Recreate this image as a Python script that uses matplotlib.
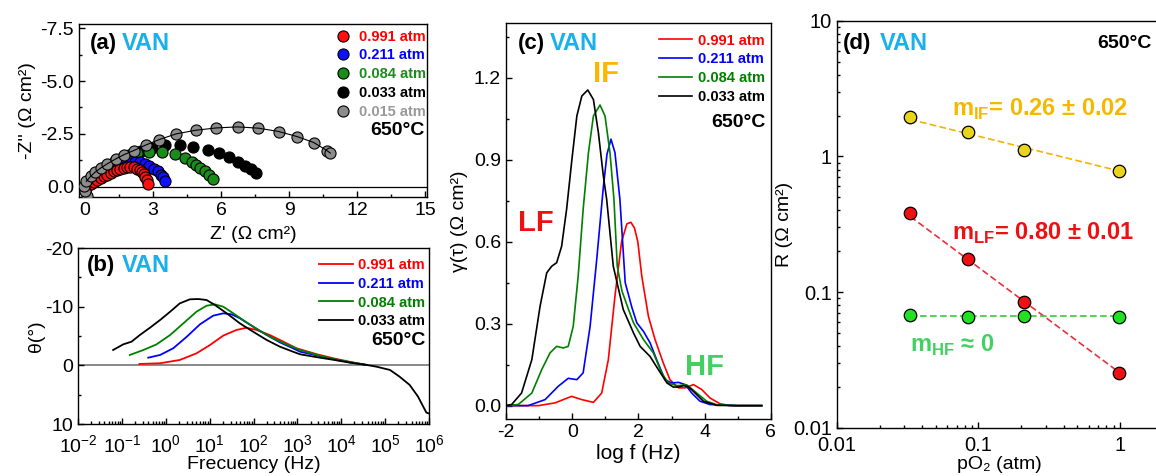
import numpy as np
import matplotlib
matplotlib.use('Agg')
import matplotlib.pyplot as plt
from matplotlib.ticker import MultipleLocator, NullFormatter, LogLocator

plt.rcParams['font.family'] = ['Liberation Sans', 'DejaVu Sans']
plt.rcParams['axes.unicode_minus'] = False
plt.rcParams['mathtext.fontset'] = 'custom'
plt.rcParams['mathtext.rm'] = 'Liberation Sans'
plt.rcParams['mathtext.bf'] = 'Liberation Sans:bold'
plt.rcParams['xtick.direction'] = 'in'
plt.rcParams['ytick.direction'] = 'in'
plt.rcParams['axes.linewidth'] = 1.0

# ---------------- data ----------------
labels = ['0.991 atm', '0.211 atm', '0.084 atm', '0.033 atm']
labels_a = labels + ['0.015 atm']

# (a) Nyquist: Z' and Z'' (Ohm cm2)
zr_red = [-0.04, 0.10, 0.25, 0.39, 0.54, 0.69, 0.83, 0.98, 1.13, 1.27, 1.42, 1.56, 1.71, 1.86, 2.00,
          2.15, 2.30, 2.41, 2.51, 2.60, 2.66, 2.73, 2.78]
zi_red = [0.02, -0.05, -0.13, -0.22, -0.31, -0.41, -0.49, -0.57, -0.64, -0.72, -0.80, -0.85, -0.90, -0.93,
          -0.93, -0.91, -0.86, -0.80, -0.71, -0.60, -0.46, -0.30, -0.14]
zr_blue = [0.04, 0.16, 0.32, 0.50, 0.69, 0.89, 1.10, 1.31, 1.53, 1.75, 1.97, 2.19, 2.41, 2.63, 2.84,
           3.03, 3.22, 3.36, 3.46, 3.54]
zi_blue = [0.0, -0.14, -0.30, -0.46, -0.62, -0.77, -0.90, -1.02, -1.11, -1.17, -1.20, -1.19, -1.15, -1.07,
           -0.96, -0.85, -0.72, -0.57, -0.44, -0.25]
zr_green = [0.04, 0.16, 0.34, 0.55, 0.78, 1.04, 1.32, 1.62, 1.95, 2.30, 2.84, 3.39, 3.95, 4.39, 4.71,
            4.88, 5.08, 5.28, 5.48, 5.63]
zi_green = [0.0, -0.17, -0.38, -0.60, -0.82, -1.03, -1.22, -1.38, -1.50, -1.59, -1.63, -1.63, -1.54, -1.38,
            -1.19, -1.04, -0.88, -0.72, -0.56, -0.37]
zr_black = [0.03, 0.15, 0.36, 0.62, 0.92, 1.24, 1.60, 2.00, 2.45, 2.95, 3.55, 4.20, 4.78, 5.41, 5.92,
            6.36, 6.77, 7.06, 7.31, 7.55]
zi_black = [0.05, -0.14, -0.36, -0.60, -0.84, -1.07, -1.29, -1.50, -1.68, -1.84, -1.96, -1.96, -1.87, -1.75,
            -1.59, -1.40, -1.19, -0.99, -0.83, -0.64]
zr_gray = [0.08, 0.02, -0.04, 0.06, 0.25, 0.44, 0.69, 0.98, 1.35, 1.71, 2.15, 2.70, 3.25, 4.02, 4.88,
           5.78, 6.73, 7.65, 8.55, 9.36, 10.09, 10.67, 10.82]
zi_gray = [0.42, 0.22, -0.01, -0.25, -0.49, -0.68, -0.88, -1.08, -1.31, -1.51, -1.71, -1.98, -2.22, -2.50,
           -2.67, -2.78, -2.83, -2.77, -2.61, -2.37, -2.09, -1.71, -1.59]

# (b) Bode phase: log10(f / Hz) and theta (deg)
lf_b_red = [-0.60, -0.13, 0.32, 0.70, 1.01, 1.31, 1.61, 1.84, 2.07, 2.37, 2.68, 2.98, 3.44, 3.82, 4.20, 4.58]
th_b_red = [-0.24, -0.36, -0.92, -2.05, -3.48, -5.07, -6.03, -6.42, -6.03, -5.18, -4.04, -2.91, -1.90,
            -1.20, -0.60, -0.07]
lf_b_blue = [-0.40, -0.13, 0.17, 0.48, 0.78, 1.08, 1.31, 1.50, 1.69, 1.99, 2.30, 2.60, 2.90, 3.06, 3.44,
             3.82, 4.20, 4.58]
th_b_blue = [-1.31, -1.77, -2.91, -4.89, -7.00, -8.47, -8.87, -8.70, -8.02, -6.60, -5.18, -3.93, -2.91,
             -2.33, -1.70, -1.05, -0.50, -0.07]
lf_b_green = [-0.82, -0.51, -0.21, 0.10, 0.40, 0.70, 0.93, 1.12, 1.31, 1.54, 1.84, 2.15, 2.45, 2.75, 3.06,
              3.44, 3.82, 4.20, 4.58]
th_b_green = [-1.77, -2.62, -3.58, -5.18, -7.16, -9.15, -10.17, -10.40, -10.00, -8.87, -7.33, -5.86, -4.61,
              -3.58, -2.62, -1.80, -1.10, -0.55, -0.07]
lf_b_black = [-1.20, -0.97, -0.78, -0.59, -0.36, -0.13, 0.10, 0.32, 0.55, 0.74, 0.93, 1.12, 1.39, 1.69,
              1.99, 2.30, 2.60, 2.90, 3.06, 3.44, 3.82, 4.20, 4.58, 4.80, 5.11, 5.33, 5.56, 5.75, 5.94, 6.00]
th_b_black = [-2.62, -3.58, -4.04, -5.18, -6.42, -7.73, -9.15, -10.57, -11.26, -11.31, -11.14, -10.29,
              -8.87, -7.16, -5.74, -4.33, -3.19, -2.33, -1.89, -1.40, -0.95, -0.46, -0.07, 0.22, 0.78,
              1.93, 3.34, 5.33, 8.05, 8.20]

# (c) DRT: log f (Hz) and gamma(tau) (Ohm cm2)
lf_c_red = [-2.0, -1.02, -0.52, -0.02, 0.29, 0.64, 0.89, 1.09, 1.29, 1.49, 1.65, 1.77, 1.88, 1.98, 2.10,
            2.30, 2.50, 2.75, 2.95, 3.21, 3.41, 3.66, 3.91, 4.16, 4.46, 4.77, 5.72]
g_c_red = [0.0, 0.0, 0.01, 0.034, 0.022, 0.012, 0.046, 0.168, 0.40, 0.60, 0.665, 0.671, 0.65, 0.60, 0.474,
           0.327, 0.242, 0.156, 0.095, 0.065, 0.065, 0.077, 0.059, 0.028, 0.007, 0.0, 0.0]
lf_c_blue = [-2.0, -1.33, -0.82, -0.42, -0.12, 0.14, 0.33, 0.54, 0.74, 0.94, 1.05, 1.17, 1.29, 1.44, 1.60,
             1.80, 1.95, 2.15, 2.35, 2.55, 2.80, 3.00, 3.21, 3.41, 3.61, 3.86, 4.16, 5.00, 5.72]
g_c_blue = [0.0, 0.0, 0.022, 0.071, 0.10, 0.095, 0.12, 0.29, 0.535, 0.80, 0.92, 0.975, 0.926, 0.755, 0.45,
            0.36, 0.303, 0.272, 0.23, 0.168, 0.095, 0.083, 0.085, 0.077, 0.046, 0.016, 0.004, 0.0, 0.0]
lf_c_green = [-2.0, -1.63, -1.22, -0.92, -0.67, -0.47, -0.27, -0.12, 0.03, 0.18, 0.33, 0.49, 0.64, 0.84,
              0.99, 1.14, 1.26, 1.36, 1.50, 1.70, 1.85, 2.15, 2.45, 2.70, 2.90, 3.16, 3.46, 3.76, 4.06,
              4.37, 5.00, 5.72]
g_c_green = [0.0, 0.004, 0.046, 0.132, 0.193, 0.217, 0.211, 0.217, 0.29, 0.474, 0.718, 0.926, 1.06, 1.10,
             1.06, 0.926, 0.755, 0.51, 0.42, 0.352, 0.303, 0.242, 0.193, 0.12, 0.083, 0.073, 0.076,
             0.046, 0.016, 0.003, 0.0, 0.0]
lf_c_black = [-2.0, -1.83, -1.53, -1.22, -0.97, -0.77, -0.62, -0.47, -0.32, -0.17, -0.01, 0.14, 0.29,
              0.47, 0.64, 0.79, 0.94, 1.04, 1.24, 1.54, 1.85, 2.05, 2.35, 2.60, 2.86, 3.05, 3.20, 3.36,
              3.50, 3.66, 3.96, 4.37, 5.00, 5.72]
g_c_black = [0.0, 0.004, 0.046, 0.168, 0.364, 0.486, 0.51, 0.523, 0.583, 0.718, 0.90, 1.06, 1.133, 1.155,
             1.12, 0.999, 0.84, 0.755, 0.51, 0.352, 0.266, 0.217, 0.18, 0.132, 0.083, 0.068, 0.068,
             0.073, 0.07, 0.052, 0.016, 0.001, 0.0, 0.0]

# (d) resistances vs pO2
po2 = [0.033, 0.084, 0.211, 0.991]
r_if = [1.94, 1.52, 1.11, 0.78]
r_lf = [0.381, 0.175, 0.085, 0.0252]
r_hf = [0.0678, 0.0652, 0.067, 0.066]
fit_x = [0.033, 0.991]
fit_if = [1.87, 0.78]
fit_lf = [0.36, 0.0255]
fit_hf = [0.067, 0.067]

VAN = '#1ab0ea'
line_cols = ['#ff0000', '#0000ff', '#008000', 'black']
mk_cols = ['#ff1010', '#1010ff', '#1a8c1a', 'black', '#8c8c8c']
txt_cols = ['#ff0000', '#0000ff', '#1a8c1a', 'black', '#999999']

fig = plt.figure(figsize=(11.56, 4.76), dpi=100)


def style(ax, size=14):
    ax.tick_params(which='both', top=False, right=False, labelsize=size)
    ax.tick_params(which='major', length=4, width=1)
    ax.tick_params(which='minor', length=2.5, width=1)


def tag(ax, letter, x_l, x_v, y):
    ax.text(x_l, y, '(%s)' % letter, transform=ax.transAxes, fontsize=16, fontweight='bold', va='center')
    ax.text(x_v, y, 'VAN', transform=ax.transAxes, fontsize=17, fontweight='bold', color=VAN, va='center')


# ---------------- (a) ----------------
ax = fig.add_axes([0.0683, 0.5861, 0.3010, 0.3634])
series_a = [(zr_red, zi_red), (zr_blue, zi_blue), (zr_green, zi_green), (zr_black, zi_black), (zr_gray, zi_gray)]
handles = [None] * 5
for i in [3, 2, 1, 0, 4]:
    x, y = series_a[i]
    handles[i], = ax.plot(x, y, 'o', ms=8, mfc=mk_cols[i], mec='black', mew=0.8, label=labels_a[i], zorder=3)
ax.plot(zr_gray[3:], zi_gray[3:], '-', color='black', lw=0.8, zorder=4)
ax.axhline(0, color='black', lw=0.9, zorder=1)
ax.set_xlim(-0.265, 15.08)
ax.set_ylim(0.49, -7.70)
ax.xaxis.set_major_locator(MultipleLocator(3))
ax.xaxis.set_minor_locator(MultipleLocator(1.5))
ax.yaxis.set_major_locator(MultipleLocator(2.5))
ax.yaxis.set_minor_locator(MultipleLocator(1.25))
ax.yaxis.set_major_formatter(lambda v, p: '%.1f' % v)
style(ax)
ax.set_xlabel("Z' (Ω cm²)", fontsize=14, labelpad=5)
ax.set_ylabel("-Z'' (Ω cm²)", fontsize=14, labelpad=3)
ax.legend(handles=handles, loc='upper right', bbox_to_anchor=(1.03, 1.035), frameon=False,
          prop={'weight': 'bold', 'size': 10.5}, labelcolor=txt_cols, handlelength=0.8,
          handletextpad=0.7, labelspacing=0.33, borderpad=0.3)
ax.text(0.994, 0.387, '650°C', transform=ax.transAxes, fontsize=14, fontweight='bold', ha='right', va='center')
tag(ax, 'a', 0.032, 0.124, 0.89)

# ---------------- (b) ----------------
ax = fig.add_axes([0.0675, 0.1092, 0.3036, 0.3697])
series_b = [(lf_b_red, th_b_red), (lf_b_blue, th_b_blue), (lf_b_green, th_b_green), (lf_b_black, th_b_black)]
ax.axhline(0, color='#808080', lw=1.3, zorder=1)
for i, (x, y) in enumerate(series_b):
    ax.plot(10.0 ** np.array(x), y, '-', color=line_cols[i], lw=1.3, label=labels[i], zorder=3 + (i == 3))
ax.set_xscale('log')
ax.set_xlim(1e-2, 1e6)
ax.set_ylim(10, -20)
ax.xaxis.set_major_locator(LogLocator(base=10, numticks=20))
ax.xaxis.set_minor_locator(LogLocator(base=10, subs=np.arange(2, 10), numticks=20))
ax.xaxis.set_minor_formatter(NullFormatter())
ax.yaxis.set_major_locator(MultipleLocator(10))
ax.yaxis.set_minor_locator(MultipleLocator(5))
style(ax)
ax.tick_params(axis='x', which='major', pad=7)
ax.set_xlabel('Frecuency (Hz)', fontsize=14, labelpad=0)
ax.set_ylabel('θ(°)', fontsize=14, labelpad=0)
ax.legend(loc='upper right', bbox_to_anchor=(1.022, 1.01), frameon=False,
          prop={'weight': 'bold', 'size': 10.5}, labelcolor='linecolor', handlelength=2.3,
          handletextpad=0.35, labelspacing=0.33, borderpad=0.3)
ax.text(0.989, 0.477, '650°C', transform=ax.transAxes, fontsize=14, fontweight='bold', ha='right', va='center')
tag(ax, 'b', 0.026, 0.125, 0.898)

# ---------------- (c) ----------------
ax = fig.add_axes([0.4377, 0.1197, 0.2292, 0.8319])
series_c = [(lf_c_red, g_c_red), (lf_c_blue, g_c_blue), (lf_c_green, g_c_green), (lf_c_black, g_c_black)]
for i, (x, y) in enumerate(series_c):
    ax.plot(x, y, '-', color=line_cols[i], lw=1.2, label=labels[i])
ax.set_xlim(-2, 6)
ax.set_ylim(-0.049, 1.4)
ax.xaxis.set_major_locator(MultipleLocator(2))
ax.xaxis.set_minor_locator(MultipleLocator(1))
ax.yaxis.set_major_locator(MultipleLocator(0.3))
ax.yaxis.set_minor_locator(MultipleLocator(0.15))
ax.yaxis.set_major_formatter(lambda v, p: '%.1f' % v)
style(ax)
ax.set_xlabel('log f (Hz)', fontsize=15, labelpad=2)
ax.set_ylabel('γ(τ) (Ω cm²)', fontsize=14, labelpad=4)
ax.legend(loc='upper right', bbox_to_anchor=(1.02, 1.003), frameon=False,
          prop={'weight': 'bold', 'size': 10.5}, labelcolor='linecolor', handlelength=2.3,
          handletextpad=0.35, labelspacing=0.33, borderpad=0.3)
ax.text(0.981, 0.748, '650°C', transform=ax.transAxes, fontsize=14, fontweight='bold', ha='right', va='center')
tag(ax, 'c', 0.045, 0.166, 0.948)
ax.text(0.045, 0.496, 'LF', transform=ax.transAxes, fontsize=21, fontweight='bold', color='#ee1111', va='center')
ax.text(0.328, 0.872, 'IF', transform=ax.transAxes, fontsize=21, fontweight='bold', color='#ffb400', va='center')
ax.text(0.675, 0.132, 'HF', transform=ax.transAxes, fontsize=21, fontweight='bold', color='#44d060', va='center')

# ---------------- (d) ----------------
ax = fig.add_axes([0.7240, 0.1015, 0.2817, 0.8550])
ax.plot(fit_x, fit_if, '--', color='#f5b300', lw=1.2, dashes=(4, 2), zorder=2)
ax.plot(fit_x, fit_lf, '--', color='#e8303a', lw=1.2, dashes=(4, 2), zorder=2)
ax.plot(fit_x, fit_hf, '--', color='#33cc33', lw=1.2, dashes=(4, 2), zorder=2)
ax.plot(po2, r_if, 'o', ms=9, mfc='#e8d41a', mec='black', mew=0.9, zorder=3)
ax.plot(po2, r_lf, 'o', ms=9, mfc='#ee1111', mec='black', mew=0.9, zorder=3)
ax.plot(po2, r_hf, 'o', ms=9, mfc='#22e022', mec='black', mew=0.9, zorder=3)
ax.set_xscale('log')
ax.set_yscale('log')
ax.set_xlim(0.01, 2.0)
ax.set_ylim(0.01, 10)
ax.set_xticks([0.01, 0.1, 1], labels=['0.01', '0.1', '1'])
ax.set_yticks([0.01, 0.1, 1, 10], labels=['0.01', '0.1', '1', '10'])
ax.xaxis.set_minor_locator(LogLocator(base=10, subs=np.arange(2, 10), numticks=20))
ax.yaxis.set_minor_locator(LogLocator(base=10, subs=np.arange(2, 10), numticks=20))
ax.xaxis.set_minor_formatter(NullFormatter())
ax.yaxis.set_minor_formatter(NullFormatter())
style(ax, 14.5)
ax.tick_params(axis='x', which='major', pad=6)
ax.spines['right'].set_visible(False)
ax.set_xlabel('pO₂ (atm)', fontsize=14, labelpad=1)
ax.set_ylabel('R (Ω cm²)', fontsize=14, labelpad=0)
ax.text(0.353, 0.781, r'm$_{\mathbf{IF}}$= 0.26 ± 0.02', transform=ax.transAxes, fontsize=17,
        fontweight='bold', color='#f5b800', va='center')
ax.text(0.353, 0.478, r'm$_{\mathbf{LF}}$= 0.80 ± 0.01', transform=ax.transAxes, fontsize=17,
        fontweight='bold', color='#ee1111', va='center')
ax.text(0.224, 0.203, r'm$_{\mathbf{HF}}$ ≈ 0', transform=ax.transAxes, fontsize=17,
        fontweight='bold', color='#44d060', va='center')
ax.text(0.967, 0.945, '650°C', transform=ax.transAxes, fontsize=14, fontweight='bold', ha='right', va='center')
tag(ax, 'd', 0.018, 0.132, 0.945)

fig.savefig('out.png', dpi=100)
